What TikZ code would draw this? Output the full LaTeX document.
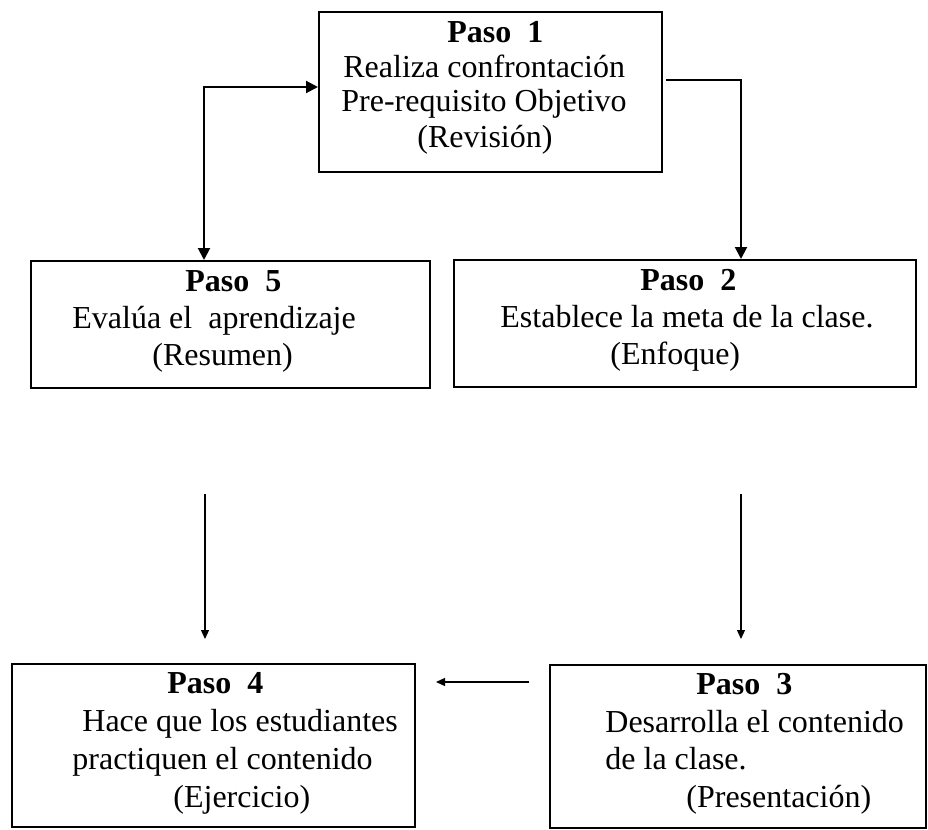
\documentclass[tikz,border=0pt]{standalone}
\usepackage{fontspec}
\setmainfont{Liberation Serif}
\usetikzlibrary{arrows.meta}

\begin{document}
\begin{tikzpicture}[
        x = 0.5pt, y = -0.5pt,
  stepbox/.style = {rectangle, draw, line width=1pt, inner sep=0pt},
 steptext/.style = {anchor=base west, align=left, inner sep=0pt,
                    font=\fontsize{16}{#1}\selectfont},
  bigline/.style = {line width=1pt, >={Triangle[length=6pt,width=6pt]}},
smallline/.style = {line width=0.6pt, >={Triangle[length=4.5pt,width=4pt]}}
                    ]
\useasboundingbox (0,0) rectangle (928,830);
% boxes
\node (p1) [stepbox, minimum width=171.5pt, minimum height=80pt]   at (490.5,92)  {};
\node (p5) [stepbox, minimum width=199.5pt, minimum height=63.5pt] at (230.5,324.5) {};
\node (p2) [stepbox, minimum width=231pt,   minimum height=63.5pt] at (685,323.5) {};
\node (p4) [stepbox, minimum width=201.5pt, minimum height=81.5pt] at (213.5,745.5) {};
\node (p3) [stepbox, minimum width=188pt,   minimum height=81.5pt] at (738,746.5) {};
% texts (placed by the baseline of their last line)
\node (t1) [steptext=17.5pt] at (341,147) {\hspace*{53pt}\textbf{Paso~~1}\\
  \hspace*{1pt}Realiza confrontación\\ Pre-requisito Objetivo\\ \hspace*{38pt}(Revisión)};
\node (t5) [steptext=18.5pt] at (72,365) {\hspace*{56.5pt}\textbf{Paso~~5}\\
  Evalúa el~~aprendizaje\\ \hspace*{40pt}(Resumen)};
\node (t2) [steptext=18.5pt] at (500,364) {\hspace*{70pt}\textbf{Paso~~2}\\
  Establece la meta de la clase.\\ \hspace*{55pt}(Enfoque)};
\node (t4) [steptext=19pt] at (72,807) {\hspace*{47.5pt}\textbf{Paso~~4}\\
  \hspace*{5pt}Hace que los estudiantes\\ practiquen el contenido\\ \hspace*{50.5pt}(Ejercicio)};
\node (t3) [steptext=18.75pt] at (605,807) {\hspace*{45.5pt}\textbf{Paso~~3}\\
  Desarrolla el contenido\\ de la clase.\\ \hspace*{40.5pt}(Presentación)};
% connectors
\coordinate (c15) at (204,87);
\coordinate (c12) at (741,80);
\coordinate (c54) at (205,0);
\coordinate (c23) at (741,0);
\coordinate (c34) at (0,682);
\draw[bigline, <->] (p5.north -| c15) |- (p1.west |- c15);
\draw[bigline, ->, shorten <=1.5pt] (p1.east |- c12) -| (p2.north -| c12);
\draw[smallline, ->, shorten <=52.5pt, shorten >=12pt] (p5.south -| c54) -- (p4.north -| c54);
\draw[smallline, ->, shorten <=53pt, shorten >=12.5pt] (p2.south -| c23) -- (p3.north -| c23);
\draw[smallline, ->, shorten <=10pt, shorten >=10pt] (p3.west |- c34) -- (p4.east |- c34);
\end{tikzpicture}
\end{document}
